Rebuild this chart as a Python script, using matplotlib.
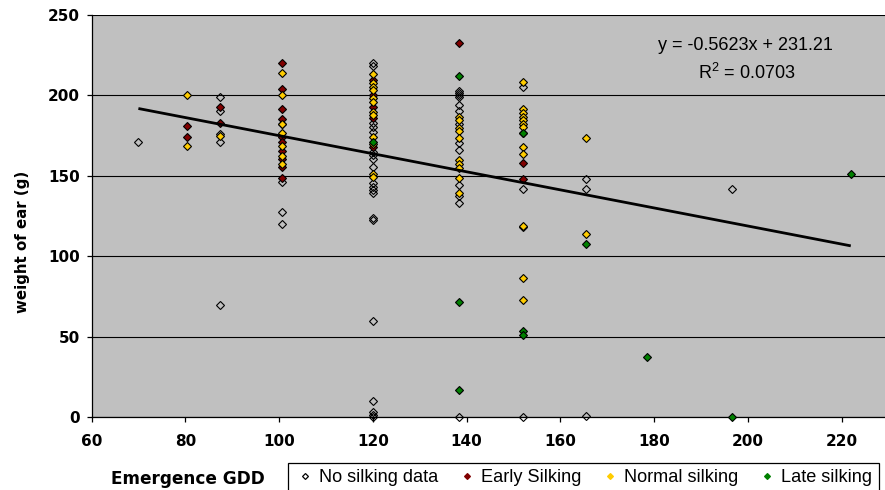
import matplotlib
matplotlib.use("Agg")
import matplotlib.pyplot as plt
from matplotlib.lines import Line2D

# ---------------- data ----------------
# No silking data (open diamonds)
no_silking_gdd = ([70.0] + [87.4] * 5 + [100.6] * 4 + [120.0] * 20 +
                  [138.3] * 13 + [152.0] * 5 + [165.5] * 3 + [196.6])
no_silking_wt = ([171] +
                 [199, 190, 176, 171, 69.5] +
                 [182, 146, 127.5, 120] +
                 [220, 218, 182.6, 180.2, 177.4, 165, 163, 160.2, 155.7, 145.3,
                  143.3, 141.2, 139, 124, 122.5, 60, 10, 3.3, 1.2, 0.2] +
                 [203, 201.7, 200.2, 198.8, 194, 190.5, 182.2, 170.2, 166,
                  144.3, 137.4, 133, 0] +
                 [205.4, 176.4, 142, 118, 0] +
                 [147.8, 141.8, 0.8] +
                 [141.6])

# Early silking
early_gdd = [80.4] * 2 + [87.4] * 2 + [100.6] * 10 + [120.0] * 5 + [138.3] + [152.0] * 2
early_wt = ([181.2, 174.3] +
            [193, 183] +
            [220, 204, 191.3, 185.1, 174.3, 171.2, 165.6, 160.2, 155.7, 148.4] +
            [209.6, 200.2, 193, 185.8, 168.1] +
            [232.4] +
            [157.7, 148.2])

# Normal silking
normal_gdd = ([80.4] * 2 + [87.4] + [100.6] * 7 + [120.0] * 12 + [138.3] * 10 +
              [152.0] * 12 + [165.5] * 2)
normal_wt = ([200.2, 168.5] +
             [174.7] +
             [214.1, 200.2, 182, 176.8, 168.5, 162.5, 157.3] +
             [213.3, 207.5, 205.4, 203.4, 198.2, 196.1, 189.9, 187.8, 174.3,
              169.8, 151.1, 149.4] +
             [186.8, 184.7, 179.5, 177.9, 173.3, 159.8, 157.3, 154.7, 148.4, 139.5] +
             [208.1, 191.3, 189.2, 186.8, 184.7, 182.2, 180.2, 168.1, 163.6,
              119, 86.2, 73] +
             [173.5, 114])

# Late silking
late_gdd = [120.0] + [138.3] * 3 + [152.0] * 3 + [165.5] + [178.4] + [196.6] + [221.9]
late_wt = [171.2] + [212.3, 71.3, 16.6] + [176.8, 53.7, 51] + [107.4] + [37.5] + [0] + [150.9]

# linear trend line (as printed on the chart)
trend_slope = -0.5623
trend_intercept = 231.21
trend_r2 = 0.0703

series_names = ["No silking data", "Early Silking", "Normal silking", "Late silking"]
series_colors = ["none", "#800000", "#FFCC00", "#008000"]

x_ticks = [60, 80, 100, 120, 140, 160, 180, 200, 220]
y_ticks = [0, 50, 100, 150, 200, 250]

# ---------------- figure ----------------
W, H = 885, 490
fig = plt.figure(figsize=(W / 100, H / 100), dpi=100)
left, top, bottom, right = 91.5, 15, 417, 885
ax = fig.add_axes([left / W, 1 - bottom / H, (right - left) / W, (bottom - top) / H])
ax.set_facecolor("#C0C0C0")

ax.set_xlim(60, 229.2)
ax.set_ylim(0, 250)

for s in ("top", "right"):
    ax.spines[s].set_visible(False)
for s in ("left", "bottom"):
    ax.spines[s].set_color("black")
    ax.spines[s].set_linewidth(0.9)

ax.set_xticks(x_ticks)
ax.set_yticks(y_ticks)
tick_font = dict(family="DejaVu Sans", weight="bold", size=11)
ax.set_xticklabels([str(t) for t in x_ticks], fontdict=tick_font)
ax.set_yticklabels([str(t) for t in y_ticks], fontdict=tick_font)
ax.tick_params(axis="both", direction="out", length=3.5, width=0.9, colors="black")
ax.tick_params(axis="x", pad=9)
ax.tick_params(axis="y", pad=5)

ax.yaxis.grid(True, color="black", linewidth=0.8)
ax.set_axisbelow(True)

all_sets = [(no_silking_gdd, no_silking_wt), (early_gdd, early_wt),
            (normal_gdd, normal_wt), (late_gdd, late_wt)]
for (gx, gy), col in zip(all_sets, series_colors):
    ax.plot(gx, gy, linestyle="none", marker="D", markersize=4.5,
            markerfacecolor=col, markeredgecolor="black", markeredgewidth=0.8,
            clip_on=False, zorder=3)

# trend line over the full x range of the data
all_x = no_silking_gdd + early_gdd + normal_gdd + late_gdd
x0, x1 = min(all_x), max(all_x)
ax.plot([x0, x1], [trend_intercept + trend_slope * x0, trend_intercept + trend_slope * x1],
        color="black", linewidth=2.0, solid_capstyle="butt", zorder=4)

# equation text
plt.rcParams["mathtext.fontset"] = "custom"
plt.rcParams["mathtext.rm"] = "Liberation Sans"
eq_font = dict(family="Liberation Sans", size=13)
fig.text(745 / W, 1 - 45 / H, f"y = {trend_slope}x + {trend_intercept}",
         ha="center", va="center", **eq_font)
fig.text(747 / W, 1 - 73 / H, r"R$^{2}$" + f" = {trend_r2}",
         ha="center", va="center", **eq_font)

# axis titles
fig.text(187.5 / W, 1 - 484 / H, "Emergence GDD", ha="center", va="baseline",
         family="DejaVu Sans", weight="bold", size=12.2)
fig.text(23 / W, 1 - 241.5 / H, "weight of ear (g)", ha="center", va="center",
         rotation=90, family="DejaVu Sans", weight="bold", size=10.8)

# legend
handles = []
for name, col in zip(series_names, series_colors):
    ec = "black" if col == "none" else col
    handles.append(Line2D([], [], linestyle="none", marker="D", markersize=3.0,
                          markerfacecolor=col, markeredgecolor=ec, markeredgewidth=0.9))
leg = fig.legend(handles, series_names, loc="upper left",
                 bbox_to_anchor=(288.3 / W, 1 - 462.7 / H), bbox_transform=fig.transFigure,
                 ncol=4, frameon=True, fancybox=False, borderaxespad=0,
                 borderpad=0.35, handlelength=1.15, handletextpad=0.2, columnspacing=1.0,
                 prop=dict(family="Liberation Sans", size=13.1))
frame = leg.get_frame()
frame.set_edgecolor("black")
frame.set_linewidth(0.9)
frame.set_facecolor("white")
frame.set_alpha(1)

fig.savefig("out.png", dpi=100, facecolor="white")
